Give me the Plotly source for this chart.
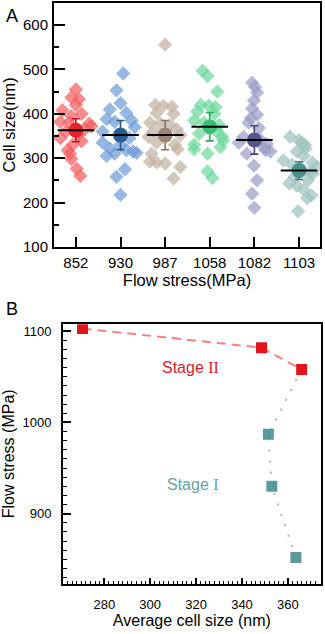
import plotly.graph_objects as go

# ---------------- Panel A data ----------------
flow_labels = ["852", "930", "987", "1058", "1082", "1103"]

cell_852 = [455, 437, 433, 420, 408, 400, 395, 382, 380, 378, 372, 365, 360, 352, 345, 338, 330, 318, 310, 298, 276, 260]
jit_852 = [0.0, -0.1, 0.07, 0.0, -0.3, 0.13, -0.1, -0.35, -0.15, 0.3, 0.35, 0.2, -0.22, 0.05, -0.35, 0.13, -0.07, -0.18, -0.13, -0.1, 0.02, 0.1]

cell_930 = [491, 453, 424, 410, 402, 388, 385, 382, 370, 360, 345, 335, 330, 322, 318, 315, 312, 310, 305, 275, 258, 217]
jit_930 = [0.06, -0.09, 0.0, -0.24, 0.13, -0.31, 0.25, -0.13, 0.32, -0.4, 0.2, -0.4, 0.0, -0.24, 0.13, 0.28, 0.36, -0.13, -0.31, 0.1, -0.09, 0.0]

cell_987 = [556, 420, 418, 416, 402, 400, 380, 378, 375, 365, 360, 352, 348, 335, 330, 320, 310, 292, 290, 288, 280, 254]
jit_987 = [0.0, -0.22, -0.04, 0.15, -0.19, 0.19, -0.34, -0.11, 0.11, 0.26, -0.26, 0.34, -0.37, -0.19, 0.22, 0.28, -0.3, -0.34, -0.19, 0.0, 0.34, 0.19]

cell_1058 = [497, 485, 450, 420, 418, 415, 405, 400, 385, 380, 375, 360, 355, 348, 340, 330, 325, 320, 310, 270, 255]
jit_1058 = [-0.16, -0.05, 0.17, -0.2, -0.02, 0.13, -0.28, 0.1, -0.35, -0.13, 0.21, 0.17, -0.24, 0.28, 0.3, -0.35, 0.24, -0.35, -0.05, -0.05, 0.06]

cell_1082 = [470, 460, 448, 430, 412, 398, 390, 380, 368, 348, 342, 335, 332, 325, 318, 315, 310, 283, 250, 220, 188]
jit_1082 = [-0.05, 0.02, 0.06, -0.01, -0.05, 0.06, -0.08, -0.13, 0.1, -0.24, 0.13, -0.35, 0.28, 0.21, 0.25, 0.36, -0.17, -0.01, 0.06, -0.05, 0.0]

cell_1103 = [348, 340, 335, 330, 322, 315, 305, 295, 290, 285, 280, 278, 268, 265, 258, 250, 243, 238, 229, 216, 210, 180]
jit_1103 = [-0.2, 0.0, 0.06, 0.13, 0.15, -0.05, 0.1, -0.35, 0.3, -0.15, 0.4, 0.05, 0.25, 0.31, -0.1, 0.2, -0.22, -0.05, 0.1, 0.28, 0.18, -0.02]

groups_cells = [cell_852, cell_930, cell_987, cell_1058, cell_1082, cell_1103]
groups_jit = [jit_852, jit_930, jit_987, jit_1058, jit_1082, jit_1103]

mean_cell = [363, 352, 352, 371, 341, 272]
err_cell = [26, 33, 33, 32, 32, 20]

point_colors = ["rgba(242,96,96,0.72)", "rgba(110,156,216,0.72)", "rgba(196,180,164,0.75)",
                "rgba(110,216,156,0.72)", "rgba(156,156,200,0.72)", "rgba(160,196,192,0.75)"]
mean_colors = ["#e8222a", "#2c5c94", "#9e8679", "#35c076", "#555590", "#4c8f8b"]
err_colors = ["#c0182a", "#28508a", "#8a7266", "#2aa866", "#46467e", "#3f7d79"]

# ---------------- Panel B data ----------------
b_cell_stage2 = [270.5, 348.5, 366]
b_flow_stage2 = [1103, 1082, 1058]
b_cell_stage1 = [351.5, 353, 363.5]
b_flow_stage1 = [987, 930, 852]

fig = go.Figure()

for i, (vals, jit) in enumerate(zip(groups_cells, groups_jit)):
    fig.add_trace(go.Scatter(
        x=[i + j for j in jit], y=vals, mode="markers",
        marker=dict(symbol="diamond", size=11, color=point_colors[i], line=dict(width=0)),
        xaxis="x", yaxis="y", showlegend=False, hoverinfo="skip"))

for i in range(len(flow_labels)):
    fig.add_trace(go.Scatter(
        x=[i], y=[mean_cell[i]], mode="markers",
        marker=dict(symbol="circle", size=15, color=mean_colors[i], line=dict(width=0)),
        error_y=dict(type="data", array=[err_cell[i]], color=err_colors[i], thickness=1.6, width=4),
        xaxis="x", yaxis="y", showlegend=False))
    fig.add_trace(go.Scatter(
        x=[i - 0.41, i + 0.41], y=[mean_cell[i], mean_cell[i]], mode="lines",
        line=dict(color="black", width=2),
        xaxis="x", yaxis="y", showlegend=False))

# Panel B
fig.add_trace(go.Scatter(
    x=[b_cell_stage2[-1]] + b_cell_stage1, y=[b_flow_stage2[-1]] + b_flow_stage1,
    mode="lines", line=dict(color="#b4b4b4", width=2, dash="2px,9px"),
    xaxis="x2", yaxis="y2", showlegend=False))
fig.add_trace(go.Scatter(
    x=b_cell_stage2, y=b_flow_stage2, mode="lines",
    line=dict(color="#f28080", width=2, dash="9px,6px"),
    xaxis="x2", yaxis="y2", showlegend=False))
fig.add_trace(go.Scatter(
    x=b_cell_stage2, y=b_flow_stage2, mode="markers",
    marker=dict(symbol="square", size=11, color="#e3141b"),
    xaxis="x2", yaxis="y2", showlegend=False))
fig.add_trace(go.Scatter(
    x=b_cell_stage1, y=b_flow_stage1, mode="markers",
    marker=dict(symbol="square", size=11, color="#5b9a9c"),
    xaxis="x2", yaxis="y2", showlegend=False))

font_main = "Liberation Sans, Arial, sans-serif"
W, H = 325, 634

def axis_common(size):
    return dict(showline=True, linecolor="black", linewidth=2, mirror=True,
                showgrid=False, zeroline=False, ticks="inside", tickcolor="black",
                tickfont=dict(family=font_main, size=size, color="black"))

fig.update_layout(
    width=W, height=H, margin=dict(l=0, r=0, t=0, b=0),
    paper_bgcolor="white", plot_bgcolor="white",
    font=dict(family=font_main, color="black"),
    xaxis=dict(**axis_common(15), domain=[54 / W, 320 / W], anchor="y",
               range=[-0.49, 5.47], tickvals=list(range(len(flow_labels))), ticktext=flow_labels,
               ticklen=10, tickwidth=2, ticklabelstandoff=1,
               title=dict(text="Flow stress(MPa)", font=dict(size=16.5), standoff=1)),
    yaxis=dict(**axis_common(15), domain=[(H - 250) / H, (H - 3) / H], anchor="x",
               range=[100, 650], tickvals=[100, 200, 300, 400, 500, 600],
               ticklen=11, tickwidth=2, ticklabelstandoff=1,
               minor=dict(ticks="inside", ticklen=5, tickwidth=2, tickcolor="black", dtick=50, tick0=50),
               title=dict(text="Cell size(nm)", font=dict(size=16.3), standoff=5)),
    xaxis2=dict(**axis_common(13), domain=[63 / W, 320.7 / W], anchor="y2",
                range=[262, 374.3], dtick=20, tick0=0, ticklen=6, tickwidth=1.5,
                ticklabelstandoff=8,
                minor=dict(ticks="inside", ticklen=3, tickwidth=1, tickcolor="black", dtick=2, tick0=0),
                title=dict(text="Average cell size (nm)", font=dict(size=16), standoff=1)),
    yaxis2=dict(**axis_common(13), domain=[43 / H, (H - 328.3) / H], anchor="x2",
                range=[823.4, 1107.8], dtick=100, tick0=0, ticklen=8, tickwidth=1.5,
                ticklabelstandoff=7,
                minor=dict(ticks="inside", ticklen=4, tickwidth=1, tickcolor="black", dtick=10, tick0=0),
                title=dict(text="Flow stress (MPa)", font=dict(size=16), standoff=6)),
)

fig.add_annotation(text="A", x=4 / W, y=1 - 16 / H, xref="paper", yref="paper",
                   xanchor="left", yanchor="middle", showarrow=False,
                   font=dict(family=font_main, size=18, color="black"))
fig.add_annotation(text="B", x=4 / W, y=1 - 313 / H, xref="paper", yref="paper",
                   xanchor="left", yanchor="middle", showarrow=False,
                   font=dict(family=font_main, size=18, color="black"))
fig.add_annotation(text="Stage <span style=\"font-family:'Liberation Serif', 'Times New Roman', serif\">II</span>",
                   x=190 / W, y=1 - 372 / H, xref="paper", yref="paper",
                   showarrow=False, font=dict(family=font_main, size=16, color="#d8222a"))
fig.add_annotation(text="Stage <span style=\"font-family:'Liberation Serif', 'Times New Roman', serif\">I</span>",
                   x=221 / W, y=1 - 501 / H, xref="paper", yref="paper",
                   showarrow=False, font=dict(family=font_main, size=16, color="#6aa0a4"))

fig.write_html("out.html")
